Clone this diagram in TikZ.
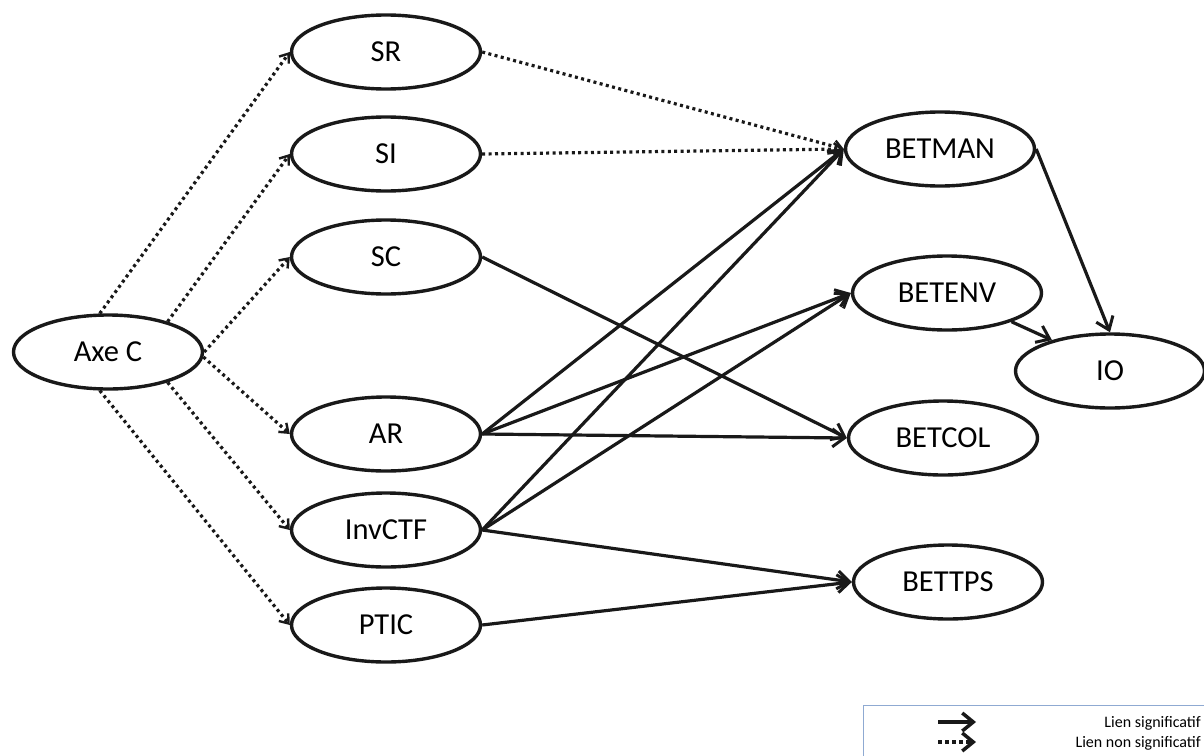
\documentclass[tikz,border=0pt]{standalone}
\usepackage{fontspec}
\setmainfont{Carlito}
\usetikzlibrary{shapes.geometric,arrows.meta}
\begin{document}
\begin{tikzpicture}[x=1pt,y=-1pt,
  var/.style={ellipse,draw=black!90,line width=3.4pt,minimum width=189pt,minimum height=74pt,inner sep=0pt,font=\fontsize{30.5}{36}\selectfont},
  sig/.style={line width=3.2pt,draw=black!90,-{Straight Barb[length=12pt,width=18pt,line width=3pt]}},
  nsig/.style={line width=3.2pt,draw=black!90,dash pattern=on 3pt off 3.4pt,-{Straight Barb[length=8pt,width=12pt,line width=2.4pt]}},
  leg/.style={anchor=east,inner sep=0pt,font=\fontsize{16}{19}\selectfont}]
\useasboundingbox (0,0) rectangle (1204,755);
\clip (0,0) rectangle (1204,755);
\node[var] (axec) at (108,352) {Axe C};
\node[var] (sr) at (386,52) {SR};
\node[var] (si) at (386,154) {SI};
\node[var] (sc) at (386,257) {SC};
\node[var] (ar) at (386,434) {AR};
\node[var] (inv) at (386,530) {InvCTF};
\node[var] (ptic) at (386,625) {PTIC};
\node[var] (betman) at (940,149) {BETMAN};
\node[var] (betenv) at (947,293) {BETENV};
\node[var] (io) at (1110,371) {IO};
\node[var] (betcol) at (943,438) {BETCOL};
\node[var] (bettps) at (948,582) {BETTPS};
% non significant
\draw[nsig] (axec.102) -- (sr.west);
\draw[nsig] (axec.27) -- (si.west);
\draw[nsig] (axec.east) -- (sc.west);
\draw[nsig] (axec.-3) -- (ar.west);
\draw[nsig] (axec.-27) -- (inv.west);
\draw[nsig] (axec.-102) -- (ptic.west);
\draw[nsig] (sr.east) -- (betman.west);
\draw[nsig] (si.east) -- (betman.west);
% significant
\draw[sig] (sc.east) -- (betcol.west);
\draw[sig] (ar.east) -- (betman.west);
\draw[sig] (ar.east) -- (betenv.west);
\draw[sig] (ar.east) -- (betcol.west);
\draw[sig] (inv.east) -- (betman.west);
\draw[sig] (inv.east) -- (betenv.west);
\draw[sig] (inv.east) -- (bettps.west);
\draw[sig] (ptic.east) -- (bettps.west);
\draw[sig] (betman.east) -- (io.north);
\draw[sig] (betenv.-24) -- (io.152);
% legend
\draw[draw={rgb,255:red,143;green,170;blue,210},line width=1pt] (863,705) rectangle (1220,770);
\coordinate (l1a) at (938,722);
\coordinate (l1b) at (976,722);
\coordinate (l2a) at (938,742);
\coordinate (l2b) at (976,742);
\draw[line width=4pt,draw=black!90,-{Straight Barb[length=11pt,width=18pt,line width=3.5pt]}] (l1a) -- (l1b);
\draw[line width=4pt,draw=black!90,dash pattern=on 4pt off 3pt,-{Straight Barb[length=11pt,width=18pt,line width=3.5pt]}] (l2a) -- (l2b);
\node[leg] (t1) at (1201,723) {Lien significatif};
\node[leg] (t2) at (1201,743) {Lien non significatif};
\end{tikzpicture}
\end{document}
